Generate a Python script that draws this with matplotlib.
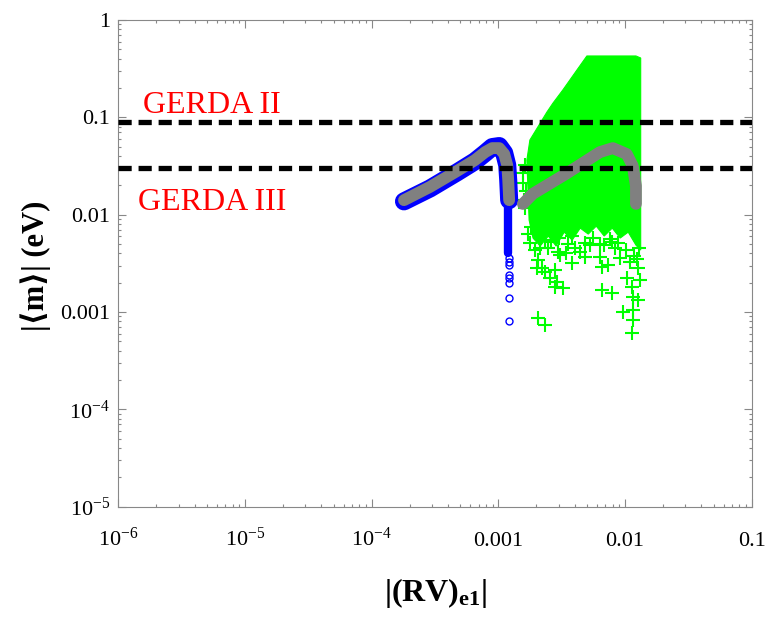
import numpy as np
import matplotlib
matplotlib.use('Agg')
import matplotlib.pyplot as plt

plt.rcParams['font.family'] = ['Liberation Serif', 'DejaVu Serif']
plt.rcParams['mathtext.fontset'] = 'custom'
plt.rcParams['mathtext.rm'] = 'Liberation Serif'
plt.rcParams['mathtext.it'] = 'Liberation Serif:italic'
plt.rcParams['mathtext.bf'] = 'Liberation Serif:bold'

# ticks
x_ticks = [1e-6, 1e-5, 1e-4, 1e-3, 1e-2, 1e-1]
x_tick_labels = [r'$10^{-6}$', r'$10^{-5}$', r'$10^{-4}$', '0.001', '0.01', '0.1']
y_ticks = [1e-5, 1e-4, 1e-3, 1e-2, 1e-1, 1]
y_tick_labels = [r'$10^{-5}$', r'$10^{-4}$', '0.001', '0.01', '0.1', '1']

# GERDA limits
gerda_levels = [0.09, 0.03]
gerda_names = ['GERDA II', 'GERDA III']

# left solution: gray core centre line and the blue band around it
core_x = [1.80e-4, 2.89e-4, 4.72e-4, 6.54e-4, 7.88e-4, 8.95e-4, 1.016e-3, 1.113e-3, 1.176e-3, 1.197e-3, 1.218e-3]
core_y = [0.0141, 0.0193, 0.0281, 0.0364, 0.0440, 0.0483, 0.0483, 0.0420, 0.0323, 0.0227, 0.0141]
blue_x = [1.80e-4, 2.89e-4, 4.72e-4, 6.54e-4, 7.88e-4, 8.95e-4, 1.016e-3, 1.113e-3, 1.176e-3, 1.197e-3, 1.218e-3]
blue_y = [0.0137, 0.0186, 0.0272, 0.0354, 0.0430, 0.0495, 0.0507, 0.0430, 0.0323, 0.0227, 0.0141]
# its tail going down
tail_x = [1.20e-3, 1.20e-3]
tail_y = [0.0139, 0.0040]
circ_x = [1.21e-3, 1.21e-3, 1.21e-3, 1.21e-3, 1.21e-3, 1.21e-3, 1.21e-3, 1.21e-3]
circ_y = [0.0036, 0.0033, 0.00302, 0.00239, 0.00222, 0.00198, 0.00139, 0.00081]

# right solution: dense region outline
green_poly_x = [5.00e-3, 1.22e-2, 1.33e-2, 1.33e-2, 1.22e-2, 1.06e-2, 9.16e-3, 7.93e-3, 6.85e-3,
                5.93e-3, 5.13e-3, 4.43e-3, 3.83e-3, 3.31e-3, 2.86e-3, 2.48e-3, 2.14e-3, 1.88e-3,
                1.75e-3, 1.68e-3, 1.775e-3, 2.05e-3, 2.42e-3, 2.70e-3, 3.23e-3, 4.17e-3]
green_poly_y = [0.427, 0.427, 0.407, 0.00433, 0.00487, 0.00662, 0.00575, 0.00728, 0.00603,
                0.00763, 0.00632, 0.00728, 0.00548, 0.00662, 0.00476, 0.00603, 0.00476, 0.00575,
                0.00881, 0.0364, 0.0585, 0.0795, 0.1134, 0.140, 0.191, 0.306]
# scattered points of the right solution
green_x = [1.56e-3, 1.62e-3, 1.59e-3, 1.62e-3, 1.71e-3, 1.775e-3, 2.05e-3, 2.02e-3, 2.21e-3,
           2.33e-3, 2.80e-3, 2.55e-3, 2.90e-3, 3.23e-3, 2.80e-3, 2.95e-3, 3.41e-3, 3.80e-3,
           4.82e-3, 6.33e-3, 6.56e-3, 7.32e-3, 6.56e-3, 7.87e-3, 9.10e-3, 1.033e-2, 1.131e-2,
           1.152e-2, 9.61e-3, 1.152e-2, 1.152e-2, 1.131e-2, 2.05e-3, 2.33e-3, 3.80e-3, 4.82e-3,
           7.87e-3, 1.95e-3, 2.48e-3, 3.08e-3, 4.05e-3, 5.31e-3, 6.37e-3, 8.37e-3, 1.10e-2,
           1.27e-2, 1.32e-2, 1.27e-2, 2.34e-3, 1.02e-2, 1.58e-3, 1.64e-3, 1.80e-3, 2.15e-3,
           2.60e-3, 3.55e-3, 4.40e-3, 5.60e-3, 6.80e-3, 7.60e-3, 8.80e-3, 1.18e-2, 1.30e-2,
           1.25e-2, 2.10e-3, 3.00e-3]
green_y = [0.0211, 0.0323, 0.0141, 0.0118, 0.0064, 0.00506, 0.0034, 0.00281, 0.00281,
           0.00256, 0.00268, 0.00222, 0.00202, 0.00176, 0.0018, 0.00409, 0.0040, 0.00316,
           0.00364, 0.00364, 0.00288, 0.00302, 0.00168, 0.00156, 0.00356, 0.00222, 0.0018,
           0.00142, 0.0010, 0.00105, 0.00083, 0.00061, 0.00087, 0.00074, 0.00611, 0.00506,
           0.00518, 0.00433, 0.00454, 0.00384, 0.00454, 0.00487, 0.00499, 0.00454, 0.00326,
           0.00283, 0.00213, 0.00133, 0.00548, 0.00433, 0.0270, 0.0175, 0.0075, 0.0046,
           0.0052, 0.0050, 0.0041, 0.0058, 0.0049, 0.0056, 0.0051, 0.0038, 0.0046,
           0.0035, 0.0062, 0.0058]
# gray core of the right solution
gray_x = [1.563e-3, 1.875e-3, 3.41e-3, 6.33e-3, 8.01e-3, 1.033e-2, 1.152e-2, 1.22e-2, 1.22e-2]
gray_y = [0.0129, 0.0164, 0.0262, 0.0439, 0.0483, 0.0419, 0.0316, 0.0198, 0.0129]

fig = plt.figure(figsize=(7.65, 6.19), dpi=100)
ax = fig.add_axes([0.1546, 0.1814, 0.828, 0.7863])
ax.set_xscale('log')
ax.set_yscale('log')

ax.fill(green_poly_x, green_poly_y, color='#00ff00', lw=0.8, ec='#00ff00', zorder=2)
ax.plot(green_x, green_y, '+', color='#00ff00', ms=9.5, mew=1.5, zorder=2)

ax.plot(blue_x, blue_y, color='#0000ff', lw=13, solid_capstyle='round', solid_joinstyle='round', zorder=3)
ax.plot(tail_x, tail_y, color='#0000ff', lw=6, solid_capstyle='round', zorder=3)
ax.plot(circ_x, circ_y, 'o', mfc='none', mec='#0000ff', ms=5, mew=1, zorder=3)
ax.plot(core_x, core_y, color='#808080', lw=8.5, solid_capstyle='round', solid_joinstyle='round', zorder=4)
ax.plot(gray_x, gray_y, color='#808080', lw=8.5, solid_capstyle='round', solid_joinstyle='round', zorder=4)

for lev in gerda_levels:
    ax.axhline(lev, color='black', lw=3.8, dashes=(2.5, 1.3), zorder=5)
ax.text(1.57e-6, 0.111, gerda_names[0], color='red', fontsize=23, ha='left', va='baseline')
ax.text(1.43e-6, 0.01115, gerda_names[1], color='red', fontsize=23, ha='left', va='baseline')

ax.set_xlim(1e-6, 0.1)
ax.set_ylim(1e-5, 1)
ax.set_xticks(x_ticks)
ax.set_xticklabels(x_tick_labels, va='baseline')
ax.set_yticks(y_ticks)
ax.set_yticklabels(y_tick_labels)
ax.tick_params(which='both', direction='in', top=True, right=True, color='#888888', width=0.8)
ax.tick_params(which='major', length=6)
ax.tick_params(which='minor', length=2.5)
ax.tick_params(axis='x', labelsize=16, pad=28)
ax.tick_params(axis='y', labelsize=16, pad=6)
for sp in ax.spines.values():
    sp.set_color('#888888')
    sp.set_linewidth(0.8)

fig.text(0.569, 1 - 593 / 619, r'|(RV)$_{\mathbf{e1}}$|', fontsize=23, fontweight='bold',
         ha='center', va='center')
fig.text(36 / 765, 1 - 266 / 619, '|⟨m⟩| (eV)', fontsize=22, fontweight='bold',
         ha='center', va='center', rotation=90)

fig.savefig('out.png', dpi=100)
